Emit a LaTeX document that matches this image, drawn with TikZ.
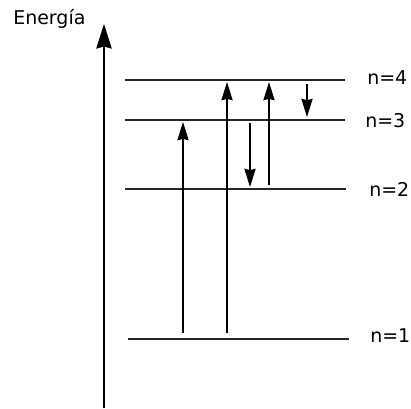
\documentclass[tikz,border=0pt]{standalone}
\usepackage{fontspec}
\setmainfont{DejaVu Sans}
\usetikzlibrary{arrows.meta}

\begin{document}
\begin{tikzpicture}[x=0.025cm, y=-0.025cm,
    level/.style={line width=0.95pt, draw=black!85},
    jump/.style={-{Stealth[length=13pt, width=8pt, inset=1pt]}, line width=0.95pt},
    axis/.style={-{Stealth[length=17.5pt, width=11pt, inset=1.5pt]}, line width=0.95pt},
    lbl/.style={font=\fontsize{13.5}{16}\selectfont, anchor=west, inner sep=0pt}
]
\useasboundingbox (0,0) rectangle (411,408);

% energy axis
\coordinate (axbot) at (104,408);
\coordinate (axtop) at (104,24);
\draw[axis] (axbot) -- (axtop);
\node[lbl, anchor=base west] (energia) at (13,24) {Energía};

% levels
\coordinate (l4a) at (125,80);   \coordinate (l4b) at (345,80);
\coordinate (l3a) at (125,120);  \coordinate (l3b) at (345,120);
\coordinate (l2a) at (125,189);  \coordinate (l2b) at (346,189);
\coordinate (l1a) at (128,339);  \coordinate (l1b) at (349,339);
\draw[level] (l4a) -- (l4b);
\draw[level] (l3a) -- (l3b);
\draw[level] (l2a) -- (l2b);
\draw[level] (l1a) -- (l1b);

\node[lbl] (n4) at (367,78) {n=4};
\node[lbl] (n3) at (365,121) {n=3};
\node[lbl] (n2) at (369,189) {n=2};
\node[lbl] (n1) at (370,336) {n=1};

% transitions
\coordinate (a1s) at (183,333);  \coordinate (a1e) at (183,122);
\coordinate (a2s) at (227,333);  \coordinate (a2e) at (227,82);
\coordinate (a3s) at (269,185);  \coordinate (a3e) at (269,82);
\coordinate (d1s) at (250,123);  \coordinate (d1e) at (250,187);
\coordinate (d2s) at (307,84);   \coordinate (d2e) at (307,117);
\draw[jump] (a1s) -- (a1e);
\draw[jump] (a2s) -- (a2e);
\draw[jump] (a3s) -- (a3e);
\draw[jump] (d1s) -- (d1e);
\draw[jump] (d2s) -- (d2e);

\end{tikzpicture}
\end{document}
